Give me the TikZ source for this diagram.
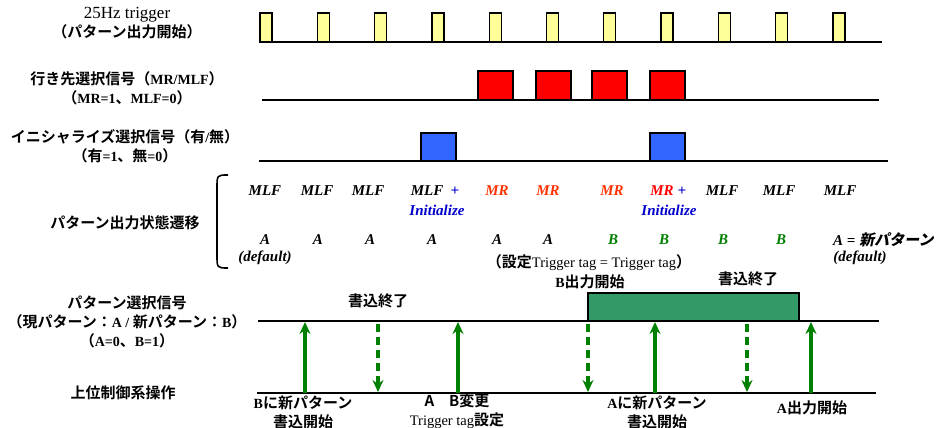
\documentclass[tikz,border=0pt]{standalone}
\usepackage{fontspec}
\setmainfont{Liberation Serif}
\newfontfamily\jp{Noto Sans CJK JP}[BoldFont={* Bold}]
\newfontfamily\jpsl{Noto Sans CJK JP}[BoldFont={* Bold},FakeSlant=0.2]
\usetikzlibrary{arrows.meta}
\definecolor{trigyellow}{HTML}{FFFF99}
\definecolor{initblue}{HTML}{3366FF}
\definecolor{boxgreen}{HTML}{339966}
\definecolor{arrowgreen}{HTML}{008000}
\definecolor{mrorange}{HTML}{FF3300}
\definecolor{initcol}{HTML}{0000CC}
\newcommand{\jt}[1]{{\fontsize{15}{19}\selectfont\jp\bfseries #1}}

\begin{document}
\begin{tikzpicture}[x=1pt,y=-1pt,font=\fontsize{14}{19}\selectfont\bfseries,
    sig/.style={line width=1.6pt},
    pulse/.style={draw=black,line width=1.3pt,fill=#1},
    lbl/.style={align=center,inner sep=0pt},
    st/.style={inner sep=0pt,font=\fontsize{15}{17}\selectfont\bfseries\itshape},
    setarrow/.style={draw=arrowgreen,line width=3.2pt,-{Stealth[length=12pt,width=11pt,inset=4pt]}},
    donearrow/.style={setarrow,dash pattern=on 8pt off 5pt}]
    \useasboundingbox (0,0) rectangle (938,428);
    % left labels
    \node[lbl] (trig) at (127,23.5) {{\mdseries\fontsize{17}{19}\selectfont 25Hz trigger}\\\jt{（パターン出力開始）}};
    \node[lbl] (dest) at (127,88.5) {\jt{行き先選択信号（}MR/MLF\jt{）}\\\jt{（}MR=1\jt{、}MLF=0\jt{）}};
    \node[lbl] (init) at (125,146) {\jt{イニシャライズ選択信号（有}/\jt{無）}\\\jt{（有}=1\jt{、無}=0\jt{）}};
    \node[lbl] (state) at (125,223) {\jt{パターン出力状態遷移}};
    \node[lbl] (psel) at (127,321.5) {\jt{パターン選択信号}\\\jt{（現パターン：}A / \jt{新パターン：}B\jt{）}\\\jt{（}A=0\jt{、}B=1\jt{）}};
    \node[lbl] (ctrl) at (123,393) {\jt{上位制御系操作}};

    \draw [sig] (259,42) -- (882,42);
    \foreach \q in {0, ..., 10} {
        \draw [pulse=trigyellow] (260+\q*57.3,42) rectangle ++(12,-29);
    }
    \draw [sig] (262,100) -- (879,100);
    \foreach \q in {478,536,592,650} {
        \draw [pulse=red] (\q,100) rectangle ++(35,-29);
    }
    \draw [sig] (259,161) -- (888,161);
    \foreach \q in {421,650} {
        \draw [pulse=initblue] (\q,161) rectangle ++(35,-28);
    }

    \draw [line width=1.6pt] (228,175) .. controls (217,175) .. (217,188) -- (217,255) .. controls (217,268) .. (228,268);
    \foreach \x/\t/\c [count=\n] in {265/MLF/black,317/MLF/black,368/MLF/black,427/MLF/black,497/MR/mrorange,548/MR/mrorange,612/MR/mrorange,662/MR/red,722/MLF/black,779/MLF/black,840/MLF/black} {
        \node[st,text=\c] (top\n) at (\x,191) {\t};
    }
    \node[st,text=initcol] (plus1) at (455,191) {+};
    \node[st,text=initcol] (plus2) at (682,191) {+};
    \node[st,text=initcol] (ini1) at (437,210) {Initialize};
    \node[st,text=initcol] (ini2) at (669,210) {Initialize};
    \foreach \x/\t/\c [count=\n] in {265/A/black,318/A/black,370/A/black,432/A/black,497/A/black,548/A/black,613/B/arrowgreen,664/B/arrowgreen,723/B/arrowgreen,781/B/arrowgreen} {
        \node[st,text=\c] (bot\n) at (\x,240) {\t};
    }
    \node[st,anchor=west] (newa) at (833,240) {A = {\fontsize{15}{19}\selectfont\jpsl\bfseries 新パターン}};
    \node[st] (def1) at (265,258) {(default)};
    \node[st] (def2) at (860,258) {(default)};
    \node[lbl,font=\fontsize{14.5}{19}\selectfont] (tag) at (589,263) {\jt{（設定}Trigger tag = Trigger tag\jt{）}};

    \draw [sig] (258,321) -- (879,321);
    \draw [line width=1.3pt,fill=boxgreen] (588,321) rectangle (799,293);
    \draw [sig] (257,393) -- (876,393);
    \foreach \x [count=\n] in {305,458,655,811} {
        \coordinate (lo\n) at (\x,393);
        \coordinate (hi\n) at (\x,322);
        \draw [setarrow] (lo\n) -- (hi\n);
    }
    \foreach \x [count=\n] in {378,588,747} {
        \coordinate (dtop\n) at (\x,324);
        \coordinate (dbot\n) at (\x,392);
        \draw [donearrow] (dtop\n) -- (dbot\n);
    }
    \node[lbl] (done1) at (378,301) {\jt{書込終了}};
    \node[lbl] (bout) at (590,282) {B\jt{出力開始}};
    \node[lbl] (done2) at (748,279) {\jt{書込終了}};
    \node[lbl] (bwrite) at (303,412.5) {B\jt{に新パターン}\\\jt{書込開始}};
    \node[lbl] (chg) at (457,411.5) {\jt{A　B変更}\\{\mdseries\fontsize{14.5}{19}\selectfont Trigger tag}\jt{設定}};
    \node[lbl] (awrite) at (657,412.5) {A\jt{に新パターン}\\\jt{書込開始}};
    \node[lbl] (aout) at (812,408) {A\jt{出力開始}};
%    \draw [setarrow] (lo1) -- (hi4);
\end{tikzpicture}
\end{document}
